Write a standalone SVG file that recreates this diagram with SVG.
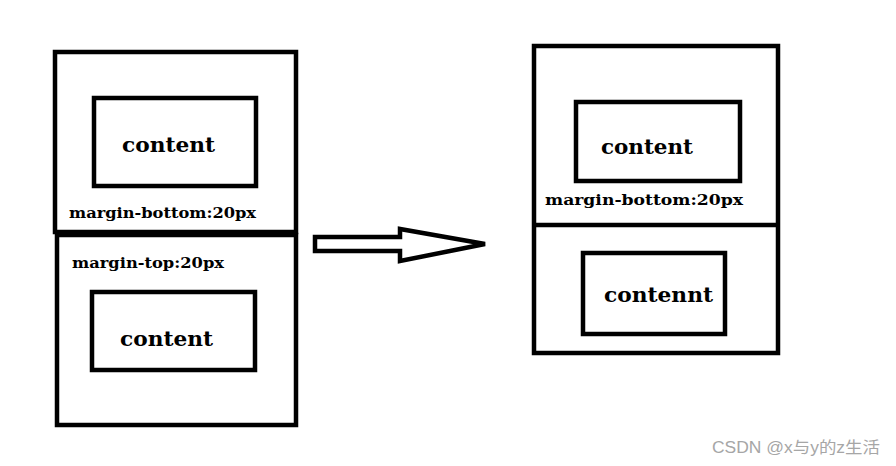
<svg xmlns="http://www.w3.org/2000/svg" width="896" height="466" viewBox="0 0 896 466">
<style>
.box{fill:none;stroke:#000;stroke-width:4.5}
.big{font-family:"DejaVu Serif","Liberation Serif",serif;font-weight:bold;font-size:21px;fill:#000}
.small{font-family:"DejaVu Serif","Liberation Serif",serif;font-weight:bold;font-size:15px;fill:#000}
.wm{font-family:"Liberation Sans","Noto Sans CJK SC",sans-serif;font-size:16px;fill:#a6a6a6}
</style>
<rect width="896" height="466" fill="#fff"/>
<g id="left-top">
<rect class="box" x="55" y="52" width="241" height="180"/>
<rect class="box" x="94" y="98" width="162" height="88"/>
<text class="big" x="122" y="152" textLength="93" lengthAdjust="spacingAndGlyphs">content</text>
<text class="small" x="69" y="218" textLength="187" lengthAdjust="spacingAndGlyphs">margin-bottom:20px</text>
</g>
<g id="left-bottom">
<rect class="box" x="57" y="235" width="239" height="190"/>
<text class="small" x="72" y="268" textLength="152" lengthAdjust="spacingAndGlyphs">margin-top:20px</text>
<rect class="box" x="92" y="292" width="163" height="78"/>
<text class="big" x="120" y="346" textLength="93" lengthAdjust="spacingAndGlyphs">content</text>
</g>
<g id="connectors">
<polygon class="box" points="315,237 400,237 400,229 485,244 400,261 400,251 315,251"/>
</g>
<g id="right">
<rect class="box" x="534" y="46" width="244" height="307"/>
<line x1="534" y1="225" x2="778" y2="225" stroke="#000" stroke-width="4.5"/>
<rect class="box" x="576" y="102" width="164" height="79"/>
<text class="big" x="601" y="154" textLength="92" lengthAdjust="spacingAndGlyphs">content</text>
<text class="small" x="545" y="205" textLength="198" lengthAdjust="spacingAndGlyphs">margin-bottom:20px</text>
<rect class="box" x="583" y="253" width="142" height="81"/>
<text class="big" x="604" y="302" textLength="109" lengthAdjust="spacingAndGlyphs">contennt</text>
</g>
<text class="wm" x="712" y="453" textLength="168" lengthAdjust="spacingAndGlyphs">CSDN @x与y的z生活</text>
</svg>
